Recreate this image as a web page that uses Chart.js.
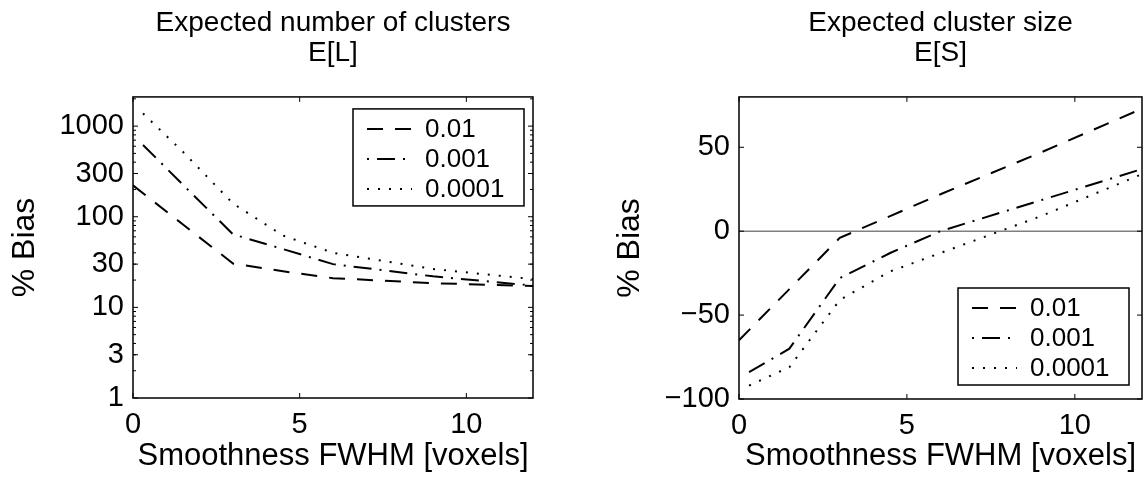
<!DOCTYPE html>
<html>
<head>
<meta charset="utf-8">
<script src="https://cdn.jsdelivr.net/npm/chart.js@4/dist/chart.umd.min.js"></script>
<style>
html,body{margin:0;padding:0;background:#fff}
.pane{position:absolute;top:0;width:573px;height:478px}
</style>
</head>
<body>
<div class="pane" style="left:0"><canvas id="cNum"></canvas></div>
<div class="pane" style="left:573px"><canvas id="cSize"></canvas></div>
<script>
'use strict';
// ─── Data ─────────────────────────────────────────────────────────────────────
const pNames   = ['0.01', '0.001', '0.0001'];
const fwhm01   = [0, 1.5, 3, 4.5, 6, 9, 12];
const fwhmLow  = [0.3, 1.5, 3, 4.5, 6, 9, 12];   // 0.001 and 0.0001 curves start a bit right of 0

const numBias01   = [222, 82, 30.5, 25, 21, 18.5, 17.2];
const numBias001  = [620, 225, 64, 44, 30, 22, 17.4];
const numBias0001 = [1380, 520, 140, 62, 40, 26.5, 20.5];

const sizeBias01   = [-65, -34.5, -4, 9, 22, 47, 73];
const sizeBias001  = [-84, -70, -28, -13, 0, 18.5, 37];
const sizeBias0001 = [-92, -81, -41, -24, -13, 9, 34];

const zeroX = [0, 12];
const zeroY = [0, 0];

const fwhmTicks = [0, 5, 10];
const numTicks  = [1, 3, 10, 30, 100, 300, 1000];
const sizeTicks = [-100, -50, 0, 50];

// ─── Helpers ──────────────────────────────────────────────────────────────────
const FONT = "'Liberation Sans', Arial, Helvetica, sans-serif";
const pts = (xs, ys) => xs.map((x, i) => ({x, y: ys[i]}));
const lineStyles = [
  {borderDash: [16, 12], legendOffset: 0},
  {borderDash: [18, 8, 2, 8], legendOffset: 26},
  {borderDash: [2, 9], legendOffset: 0}
];
const mkSet = (i, xs, ys) => ({
  label: pNames[i], data: pts(xs, ys), borderColor: '#000', borderWidth: 2,
  borderDash: lineStyles[i].borderDash, legendOffset: lineStyles[i].legendOffset,
  pointRadius: 0, tension: 0, fill: false, borderCapStyle: 'butt'
});

// box round the axes with inward ticks, like the original
const axesBox = {
  id: 'axesBox',
  afterDatasetsDraw(chart) {
    const {ctx, chartArea: a, scales: {x, y}} = chart;
    ctx.save();
    ctx.setLineDash([]);
    ctx.strokeStyle = '#000';
    ctx.lineWidth = 1.5;
    ctx.strokeRect(a.left, a.top, a.width, a.height);
    ctx.lineWidth = 1;
    ctx.beginPath();
    x.ticks.forEach(t => {
      const px = x.getPixelForValue(t.value);
      ctx.moveTo(px, a.bottom); ctx.lineTo(px, a.bottom - 5);
      ctx.moveTo(px, a.top); ctx.lineTo(px, a.top + 5);
    });
    y.ticks.forEach(t => {
      const py = y.getPixelForValue(t.value);
      ctx.moveTo(a.left, py); ctx.lineTo(a.left + 5, py);
      ctx.moveTo(a.right, py); ctx.lineTo(a.right - 5, py);
    });
    if (y.type === 'logarithmic') {
      for (let d = 1; d <= y.max; d *= 10) {
        for (let m = 2; m <= 9; m++) {
          const v = m * d;
          if (v > y.max) break;
          const py = y.getPixelForValue(v);
          ctx.moveTo(a.left, py); ctx.lineTo(a.left + 3, py);
          ctx.moveTo(a.right, py); ctx.lineTo(a.right - 3, py);
        }
      }
    }
    ctx.stroke();
    ctx.restore();
  }
};

// legend box drawn inside the plot area
const boxLegend = {
  id: 'boxLegend',
  afterDraw(chart, args, o) {
    const {ctx, chartArea: a} = chart;
    const w = 171, h = 97;
    const x0 = a.right - o.right - w;
    const y0 = o.top != null ? a.top + o.top : a.bottom - o.bottom - h;
    ctx.save();
    ctx.fillStyle = '#fff';
    ctx.fillRect(x0, y0, w, h);
    ctx.strokeStyle = '#000';
    ctx.lineWidth = 1.5;
    ctx.strokeRect(x0, y0, w, h);
    chart.data.datasets.filter(d => d.label).forEach((d, i) => {
      const yy = y0 + 20 + i * 30;
      ctx.setLineDash(d.borderDash);
      ctx.lineDashOffset = d.legendOffset || 0;
      ctx.lineWidth = 2;
      ctx.beginPath(); ctx.moveTo(x0 + 14, yy); ctx.lineTo(x0 + 59, yy); ctx.stroke();
      ctx.setLineDash([]);
      ctx.fillStyle = '#000';
      ctx.font = '26px ' + FONT;
      ctx.textBaseline = 'middle';
      ctx.fillText(d.label, x0 + 72, yy + 1);
    });
    ctx.restore();
  }
};

const makeChart = (id, cfg) => new Chart(document.getElementById(id), {
  type: 'line',
  data: {datasets: cfg.datasets},
  options: {
    responsive: true, maintainAspectRatio: false, animation: false,
    devicePixelRatio: 1,
    layout: {padding: {left: 0, right: cfg.rightPad, top: 0, bottom: 0}},
    scales: {
      x: {
        type: 'linear', min: 0, max: 12,
        afterBuildTicks: s => { s.ticks = fwhmTicks.map(v => ({value: v})); },
        afterFit: s => { s.height = cfg.xH; },
        grid: {display: false, drawTicks: false}, border: {display: false},
        ticks: {color: '#000', font: {family: FONT, size: 29}, padding: 10, maxRotation: 0, autoSkip: false},
        title: {display: true, text: 'Smoothness FWHM [voxels]', color: '#000',
                font: {family: FONT, size: 31, lineHeight: 1.2}, padding: {top: 0, bottom: 3}}
      },
      y: {
        type: cfg.yType, min: cfg.yMin, max: cfg.yMax,
        afterBuildTicks: s => { s.ticks = cfg.yTicks.map(v => ({value: v})); },
        afterFit: s => { s.width = cfg.yW; },
        grid: {display: false, drawTicks: false}, border: {display: false},
        ticks: {color: '#000', font: {family: FONT, size: 29}, padding: 9, autoSkip: false,
                callback: v => String(v).replace('-', '\u2212')},
        title: {display: true, text: '% Bias', color: '#000',
                font: {family: FONT, size: 32, lineHeight: 1.2}, padding: {top: cfg.yTitlePad, bottom: 0}}
      }
    },
    plugins: {
      legend: {display: false},
      tooltip: {enabled: false},
      title: {display: true, fullSize: false, text: cfg.title, color: '#000',
              font: {family: FONT, size: 28, weight: 'normal', lineHeight: 1.07},
              padding: {top: 8, bottom: 29}},
      boxLegend: cfg.legend
    }
  },
  plugins: [axesBox, boxLegend]
});

makeChart('cNum', {
  title: ['Expected number of clusters', 'E[L]'],
  yType: 'logarithmic', yMin: 1, yMax: 2100, yTicks: numTicks,
  yW: 133, xH: 80, rightPad: 40, yTitlePad: 6,
  legend: {right: 9, top: 12},
  datasets: [
    mkSet(0, fwhm01, numBias01),
    mkSet(1, fwhmLow, numBias001),
    mkSet(2, fwhmLow, numBias0001)
  ]
});

makeChart('cSize', {
  title: ['Expected cluster size', 'E[S]'],
  yType: 'linear', yMin: -100, yMax: 80, yTicks: sizeTicks,
  yW: 166, xH: 79, rightPad: 4, yTitlePad: 38,
  legend: {right: 13, bottom: 14},
  datasets: [
    mkSet(0, fwhm01, sizeBias01),
    mkSet(1, fwhmLow, sizeBias001),
    mkSet(2, fwhmLow, sizeBias0001),
    {data: pts(zeroX, zeroY), borderColor: '#808080', borderWidth: 1.5, pointRadius: 0}
  ]
});
</script>
</body>
</html>
